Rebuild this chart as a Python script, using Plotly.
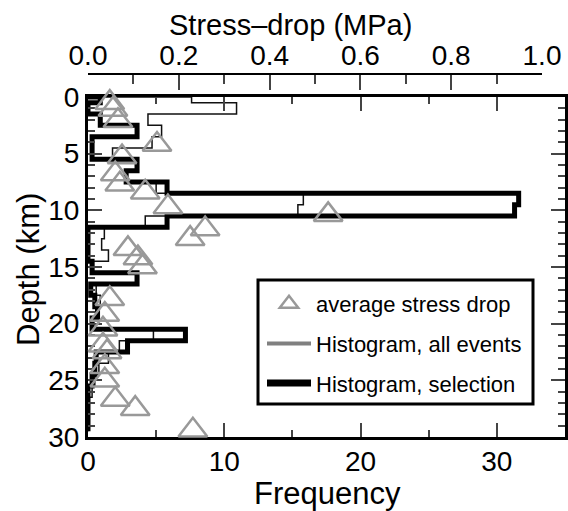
import numpy as np
import plotly.graph_objects as go

# ---- data -------------------------------------------------------------
depth_bins = list(range(0, 30))  # 1-km bin centres (km)
freq_all = [7.6, 10.9, 4.4, 5.4, 4.7, 1.8, 3.5, 2.8, 5.0, 15.8, 15.4, 4.2,
            1.2, 1.0, 1.5, 0.4, 3.5, 0.6, 0.9, 0.6, 0.4, 4.8, 2.3, 1.5,
            0.8, 0.5, 0.3, 0.0, 0.0, 0.0]
freq_sel = [0.9, 0.0, 0.9, 3.6, 0.3, 0.3, 3.6, 2.8, 5.8, 31.6, 31.3, 5.8,
            0.0, 0.0, 0.0, 0.3, 3.6, 0.2, 0.5, 0.7, 0.3, 7.15, 2.9, 0.6,
            0.5, 0.3, 0.0, 0.0, 0.0, 0.0]
sd_depth = [-0.8, 0.5, 1.1, 2.1, 4.2, 5.3, 6.8, 7.7, 8.4, 9.7, 10.4, 11.65,
            12.5, 13.4, 14.2, 15.0, 17.8, 19.2, 20.5, 21.9, 22.5, 23.8, 25.0,
            26.7, 27.5, 29.4]
sd_mpa = [0.041, 0.048, 0.055, 0.066, 0.152, 0.075, 0.06, 0.07, 0.126, 0.176,
          0.529, 0.258, 0.225, 0.088, 0.11, 0.12, 0.048, 0.037, 0.033, 0.033,
          0.042, 0.037, 0.037, 0.06, 0.104, 0.231]

# ---- geometry (pixels) ------------------------------------------------
W, H = 568, 511
L, R, T, B = 88, 3, 60, 74
plot_w = W - L - R
plot_h = H - T - B
box_top_px = 97
top_axis_px = 74
top_axis_right_px = 542


def px_x(px):
    return (px - L) / plot_w


def px_y(py):
    return (H - B - py) / plot_h


def step_outline(centres, counts):
    xs, ys = [0.0], [0.0]
    for c, f in zip(centres, counts):
        lo, hi = max(c - 0.5, 0.0), c + 0.5
        xs += [f, f]
        ys += [lo, hi]
    xs.append(0.0)
    ys.append(ys[-1])
    return xs, ys


font_family = "Liberation Sans, Arial, Helvetica, sans-serif"

fig = go.Figure()

xa, ya = step_outline(depth_bins, freq_all)
xs, ys = step_outline(depth_bins, freq_sel)

fig.add_trace(go.Scatter(x=xa, y=ya, mode="lines", showlegend=False,
                         line=dict(color="#111111", width=1.5),
                         xaxis="x", yaxis="y", hoverinfo="skip"))
fig.add_trace(go.Scatter(x=xs, y=ys, mode="lines", showlegend=False,
                         line=dict(color="black", width=5),
                         xaxis="x", yaxis="y", hoverinfo="skip"))
fig.add_trace(go.Scatter(x=sd_mpa, y=sd_depth, mode="markers",
                         name="average stress drop", legendgroup="a",
                         marker=dict(symbol="triangle-up-open", size=25,
                                     color="#999999", line=dict(width=2.5, color="#999999")),
                         cliponaxis=False, xaxis="x2", yaxis="y"))
# legend entries for the histograms
fig.add_trace(go.Scatter(x=[None], y=[None], mode="lines",
                         name="Histogram, all events", legendgroup="b",
                         line=dict(color="#808080", width=4)))
fig.add_trace(go.Scatter(x=[None], y=[None], mode="lines",
                         name="Histogram, selection", legendgroup="c",
                         line=dict(color="black", width=7)))

tick_font = dict(size=28)
fig.update_layout(
    width=W, height=H,
    margin=dict(l=L, r=R, t=T, b=B, autoexpand=False),
    paper_bgcolor="white", plot_bgcolor="rgba(0,0,0,0)",
    font=dict(family=font_family, size=26, color="black"),
    xaxis=dict(range=[0, 35], domain=[0, 1], anchor="y",
               tickvals=[0, 10, 20, 30], ticks="inside", ticklen=14, tickwidth=1.5,
               minor=dict(dtick=5, ticks="inside", ticklen=7, tickwidth=1.5),
               showline=True, linewidth=3, linecolor="black", mirror="ticks",
               showgrid=False, zeroline=False, tickfont=tick_font,
               ticklabelstandoff=-3),
    yaxis=dict(range=[30, 0], domain=[0, px_y(box_top_px)], anchor="x",
               tickvals=[0, 5, 10, 15, 20, 25, 30], ticks="inside", ticklen=14, tickwidth=1.5,
               minor=dict(dtick=1, ticks="inside", ticklen=7, tickwidth=1.5),
               showline=True, linewidth=3, linecolor="black", mirror="ticks",
               showgrid=False, zeroline=False, tickfont=tick_font),
    xaxis2=dict(range=[0, 1], domain=[0, px_x(top_axis_right_px)],
                anchor="free", position=px_y(top_axis_px), side="top",
                tickvals=[0, 0.2, 0.4, 0.6, 0.8, 1.0], tickformat=".1f",
                ticks="inside", ticklen=15, tickwidth=1.5,
                minor=dict(dtick=0.1, ticks="inside", ticklen=9, tickwidth=1.5),
                showline=True, linewidth=1.5, linecolor="black",
                showgrid=False, zeroline=False, tickfont=tick_font,
                ticklabelstandoff=-3),
    legend=dict(x=px_x(262), y=px_y(283), xanchor="left", yanchor="top",
                borderwidth=0, bgcolor="rgba(0,0,0,0)",
                font=dict(size=22), tracegroupgap=8,
                traceorder="grouped", itemwidth=44),
    shapes=[
        dict(type="rect", xref="paper", yref="paper", layer="below",
             x0=px_x(258), x1=px_x(533), y0=px_y(404), y1=px_y(280),
             line=dict(color="black", width=3), fillcolor="white"),
    ],
    annotations=[
        dict(text="Stress\u2013drop (MPa)", x=px_x(290), y=px_y(25),
             xref="paper", yref="paper", showarrow=False,
             xanchor="center", yanchor="middle", font=dict(size=29)),
        dict(text="Frequency", x=px_x(327), y=px_y(493),
             xref="paper", yref="paper", showarrow=False,
             xanchor="center", yanchor="middle", font=dict(size=31)),
        dict(text="Depth (km)", x=px_x(28), y=px_y(270), textangle=-90,
             xref="paper", yref="paper", showarrow=False,
             xanchor="center", yanchor="middle", font=dict(size=31)),
    ],
)

fig.write_html("out.html")
